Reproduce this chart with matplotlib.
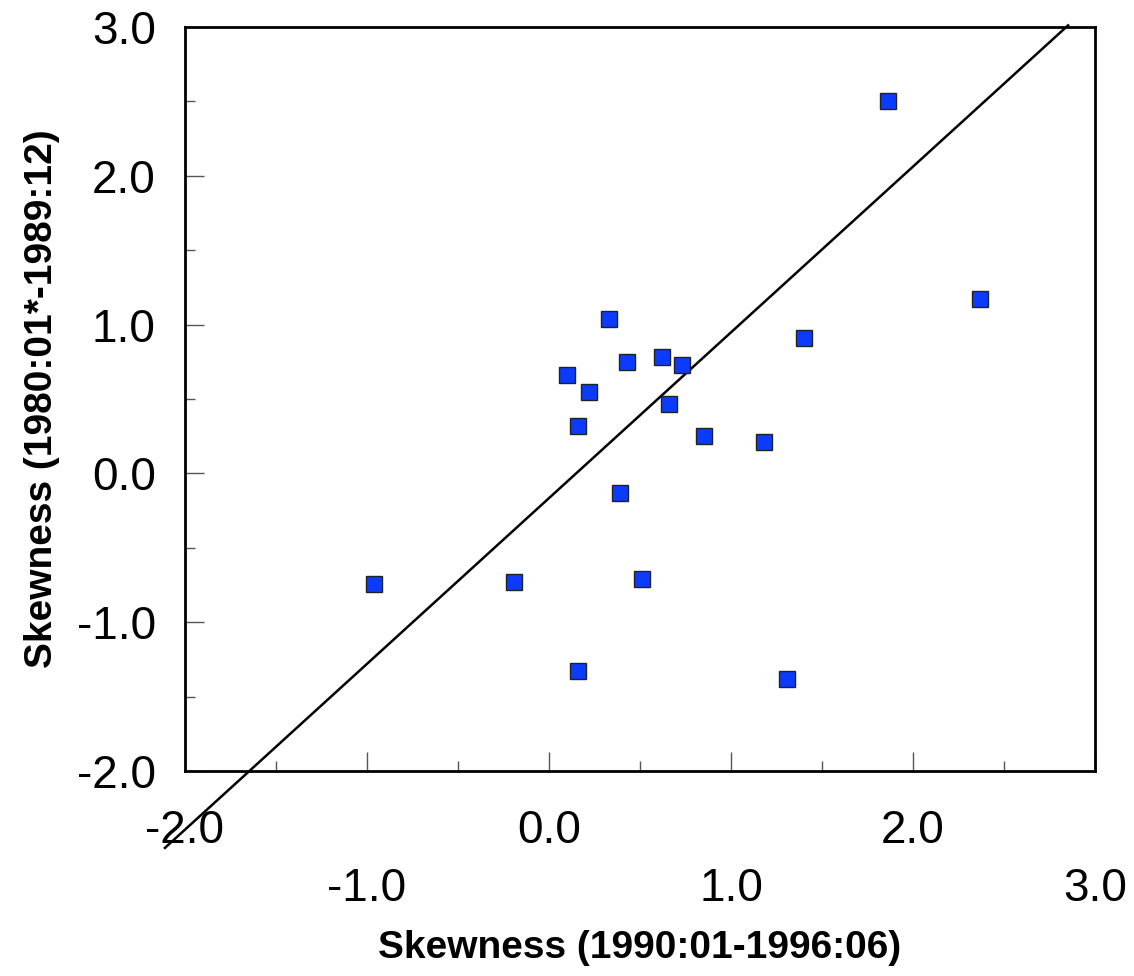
import matplotlib.pyplot as plt
from matplotlib.ticker import MultipleLocator
import numpy as np

plt.rcParams['font.family'] = ['Liberation Sans', 'DejaVu Sans']

# Skewness per series: 1990:01-1996:06 (x) vs 1980:01*-1989:12 (y)
skew_90s = [-0.96, -0.19, 0.16, 0.10, 0.16, 0.22, 0.33, 0.43, 0.39, 0.51,
            0.62, 0.73, 0.66, 0.85, 1.18, 1.31, 1.40, 1.86, 2.37]
skew_80s = [-0.74, -0.73, -1.33, 0.66, 0.32, 0.55, 1.04, 0.75, -0.13, -0.71,
            0.78, 0.73, 0.47, 0.25, 0.21, -1.38, 0.91, 2.50, 1.17]

# reference line (drawn past the frame as in the original)
line_slope = 1.114
line_icpt = -0.166
line_x = [-2.11, 2.852]

x_ticks = [-2.0, -1.0, 0.0, 1.0, 2.0, 3.0]
y_ticks = [-2.0, -1.0, 0.0, 1.0, 2.0, 3.0]

fig = plt.figure(figsize=(11.34, 9.76), dpi=100)
ax = fig.add_axes([0.1631, 0.2100, 0.8025, 0.7623])

lx = np.array(line_x)
ax.plot(lx, line_slope * lx + line_icpt, color='black', lw=1.8, clip_on=False, zorder=2)
ax.plot(skew_90s, skew_80s, ls='none', marker='s', ms=11.5, mfc='#0b3bff',
        mec='#222222', mew=1.0, zorder=3)

ax.set_xlim(-2, 3)
ax.set_ylim(-2, 3)
ax.set_xticks(x_ticks)
ax.set_xticklabels([f'{v:.1f}' for v in x_ticks])
ax.set_yticks(y_ticks)
ax.set_yticklabels([f'{v:.1f}' for v in y_ticks])
ax.xaxis.set_minor_locator(MultipleLocator(0.5))
ax.yaxis.set_minor_locator(MultipleLocator(0.5))

ax.tick_params(which='both', direction='in', colors='#555555', labelcolor='black',
               labelsize=33, width=1.0)
ax.tick_params(which='major', length=14)
ax.tick_params(which='minor', length=7)
ax.tick_params(axis='y', which='major', pad=21)

# staggered x labels
for i, t in enumerate(ax.xaxis.get_major_ticks()):
    t.set_pad(27 if i % 2 == 0 else 69)

for s in ax.spines.values():
    s.set_linewidth(2.0)

ax.set_xlabel('Skewness (1990:01-1996:06)', fontsize=28, fontweight='bold', labelpad=14)
ax.set_ylabel('Skewness (1980:01*-1989:12)', fontsize=28, fontweight='bold', labelpad=12)

fig.savefig('out.png', dpi=100)
